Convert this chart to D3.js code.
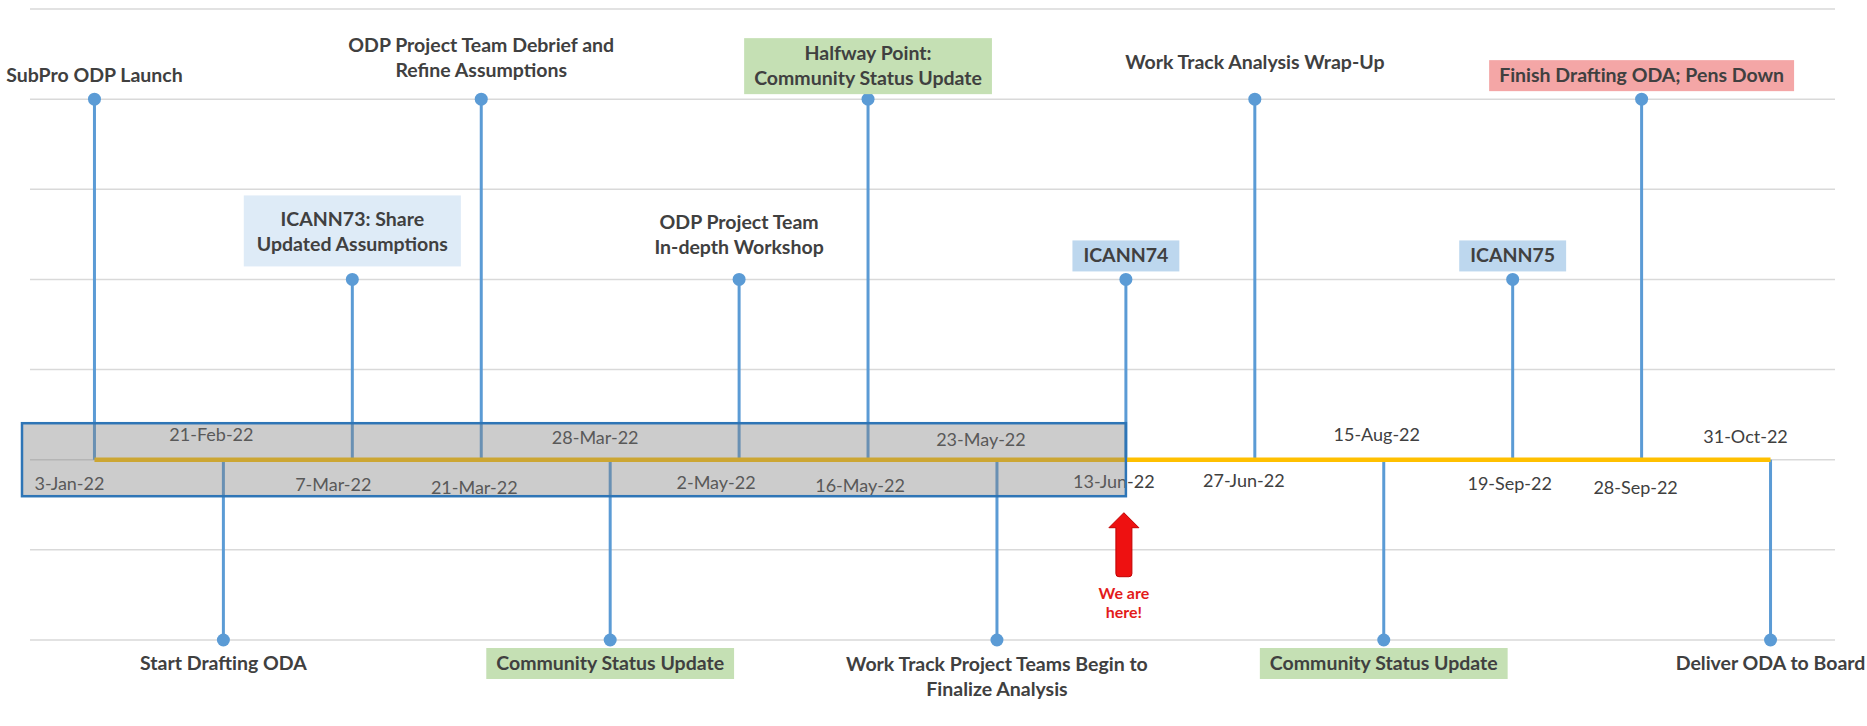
<!DOCTYPE html>
<html>
<head>
<meta charset="utf-8">
<script src="https://cdn.jsdelivr.net/npm/d3@7"></script>
<style>
  body { margin: 0; background: #fff; }
  svg text { font-family: Lato, "Open Sans", sans-serif; }
  .date { font-size: 18px; fill: #404040; }
  .event { font-size: 19.5px; font-weight: bold; fill: #404040; }
  .here { font-size: 16px; font-weight: bold; fill: #e31b1b; }
</style>
</head>
<body>
<svg id="chart" width="1867" height="726"></svg>
<script>
// milestones, one per category on the axis
const dates = ["3-Jan-22", "21-Feb-22", "7-Mar-22", "21-Mar-22", "28-Mar-22", "2-May-22", "16-May-22",
  "23-May-22", "13-Jun-22", "27-Jun-22", "15-Aug-22", "19-Sep-22", "28-Sep-22", "31-Oct-22"];
const events = [
  "SubPro ODP Launch",
  "Start Drafting ODA",
  "ICANN73: Share\nUpdated Assumptions",
  "ODP Project Team Debrief and\nRefine Assumptions",
  "Community Status Update",
  "ODP Project Team\nIn-depth Workshop",
  "Halfway Point:\nCommunity Status Update",
  "Work Track Project Teams Begin to\nFinalize Analysis",
  "ICANN74",
  "Work Track Analysis Wrap-Up",
  "Community Status Update",
  "ICANN75",
  "Finish Drafting ODA; Pens Down",
  "Deliver ODA to Board"
];
const levels = [4, -2, 2, 4, -2, 2, 4, -2, 2, 4, -2, 2, 4, -2];
const tags = ["", "", "icann73", "", "update", "", "update", "", "icann", "", "update", "icann", "deadline", ""];
const yTicks = [-2, -1, 0, 1, 2, 3, 4, 5];
const doneUntil = "13-Jun-22";
const hereAt = "13-Jun-22";

// hand placed label nudges (px), like the moved labels in the original
const dateDx = [-25, -12, -19, -7, -15, -23, -8, -16, -12, -11, -7, -3, -6, -25];
const dateDy = [-1, -2, 0, 3, 1, -2, 1, 3, -3, -4, -2, -1, 3, 0];
const eventDy = [0, 0, -11, -5, 0, -8, 3, 1, 0, -13, 0, 0, 0, 0];

const tagFill = { icann73: "#deebf7", icann: "#bdd7ee", update: "#c5e0b4", deadline: "#f4a6a6" };
const tagPad = {
  icann73: { x: 13, top: 17, bottom: 15 },
  icann: { x: 11, top: 8, bottom: 9 },
  update: { x: 10, top: 8, bottom: 9 },
  deadline: { x: 10, top: 8, bottom: 9 }
};

const svg = d3.select("#chart");

const x = d3.scalePoint().domain(dates).range([30, 1835]).padding(0.5);
const y = d3.scaleLinear().domain([-2, 5]).range([640, 9]);

const data = dates.map((d, i) => ({
  date: d, event: events[i], level: levels[i], tag: tags[i], i: i
}));

// gridlines
svg.append("g")
  .selectAll("line")
  .data(yTicks)
  .join("line")
  .attr("x1", 30)
  .attr("x2", 1835)
  .attr("y1", (d) => y(d))
  .attr("y2", (d) => y(d))
  .attr("stroke", "#d9d9d9")
  .attr("stroke-width", 1.5);

// stems + markers
svg.append("g")
  .selectAll("line")
  .data(data)
  .join("line")
  .attr("x1", (d) => x(d.date))
  .attr("x2", (d) => x(d.date))
  .attr("y1", y(0))
  .attr("y2", (d) => y(d.level))
  .attr("stroke", "#5b9bd5")
  .attr("stroke-width", 3);

svg.append("g")
  .selectAll("circle")
  .data(data)
  .join("circle")
  .attr("cx", (d) => x(d.date))
  .attr("cy", (d) => y(d.level))
  .attr("r", 6.5)
  .attr("fill", "#5b9bd5");

// timeline
svg.append("line")
  .attr("x1", x(dates[0]))
  .attr("x2", x(dates[dates.length - 1]))
  .attr("y1", y(0))
  .attr("y2", y(0))
  .attr("stroke", "#ffc000")
  .attr("stroke-width", 4.5);

// date labels
svg.append("g")
  .selectAll("text")
  .data(data)
  .join("text")
  .attr("class", "date")
  .attr("text-anchor", "middle")
  .attr("x", (d) => x(d.date) + dateDx[d.i])
  .attr("y", (d) => y(0) + (d.level > 0 ? 31 : -17) + dateDy[d.i])
  .text((d) => d.date);

// shaded "done" period
svg.append("rect")
  .attr("x", 22)
  .attr("y", y(0) - 36.5)
  .attr("width", x(doneUntil) - 22)
  .attr("height", 73)
  .attr("fill", "#7f7f7f")
  .attr("fill-opacity", 0.4)
  .attr("stroke", "#2e75b6")
  .attr("stroke-width", 2.5);

// event labels
const lineH = 25;
const labels = svg.append("g")
  .selectAll("g")
  .data(data)
  .join("g");

labels.each(function (d) {
  const g = d3.select(this);
  const lines = d.event.split("\n");
  const cx = x(d.date);
  const py = y(d.level);
  let first;
  if (d.level > 0) first = py - 17 + eventDy[d.i] - (lines.length - 1) * lineH;
  else first = py + 30 + eventDy[d.i];
  const last = first + (lines.length - 1) * lineH;

  const rect = g.append("rect");
  const t = g.append("text")
    .attr("class", "event")
    .attr("text-anchor", "middle");
  lines.forEach((l, k) => {
    t.append("tspan")
      .attr("x", cx)
      .attr("y", first + k * lineH)
      .text(l);
  });

  if (d.tag) {
    const pad = tagPad[d.tag];
    const bb = t.node().getBBox();
    rect
      .attr("x", bb.x - pad.x)
      .attr("width", bb.width + 2 * pad.x)
      .attr("y", first - 14 - pad.top)
      .attr("height", last - first + 14 + pad.top + pad.bottom)
      .attr("fill", tagFill[d.tag]);
  } else {
    rect.remove();
  }
});

// "We are here!" arrow
const ax = x(hereAt) - 2;
const ay = y(0) + 53;
const arrow = d3.path();
arrow.moveTo(ax, ay);
arrow.lineTo(ax + 15, ay + 15);
arrow.lineTo(ax + 8, ay + 15);
arrow.lineTo(ax + 8, ay + 61);
arrow.quadraticCurveTo(ax + 8, ay + 64, ax + 5, ay + 64);
arrow.lineTo(ax - 5, ay + 64);
arrow.quadraticCurveTo(ax - 8, ay + 64, ax - 8, ay + 61);
arrow.lineTo(ax - 8, ay + 15);
arrow.lineTo(ax - 15, ay + 15);
arrow.closePath();

svg.append("path")
  .attr("d", arrow.toString())
  .attr("fill", "#ee1111")
  .attr("stroke", "#c00000")
  .attr("stroke-width", 1)
  .attr("stroke-linejoin", "round");

svg.append("text")
  .attr("class", "here")
  .attr("text-anchor", "middle")
  .selectAll("tspan")
  .data(["We are", "here!"])
  .join("tspan")
  .attr("x", ax)
  .attr("y", (d, k) => ay + 86 + k * 19)
  .text((d) => d);
</script>
</body>
</html>
